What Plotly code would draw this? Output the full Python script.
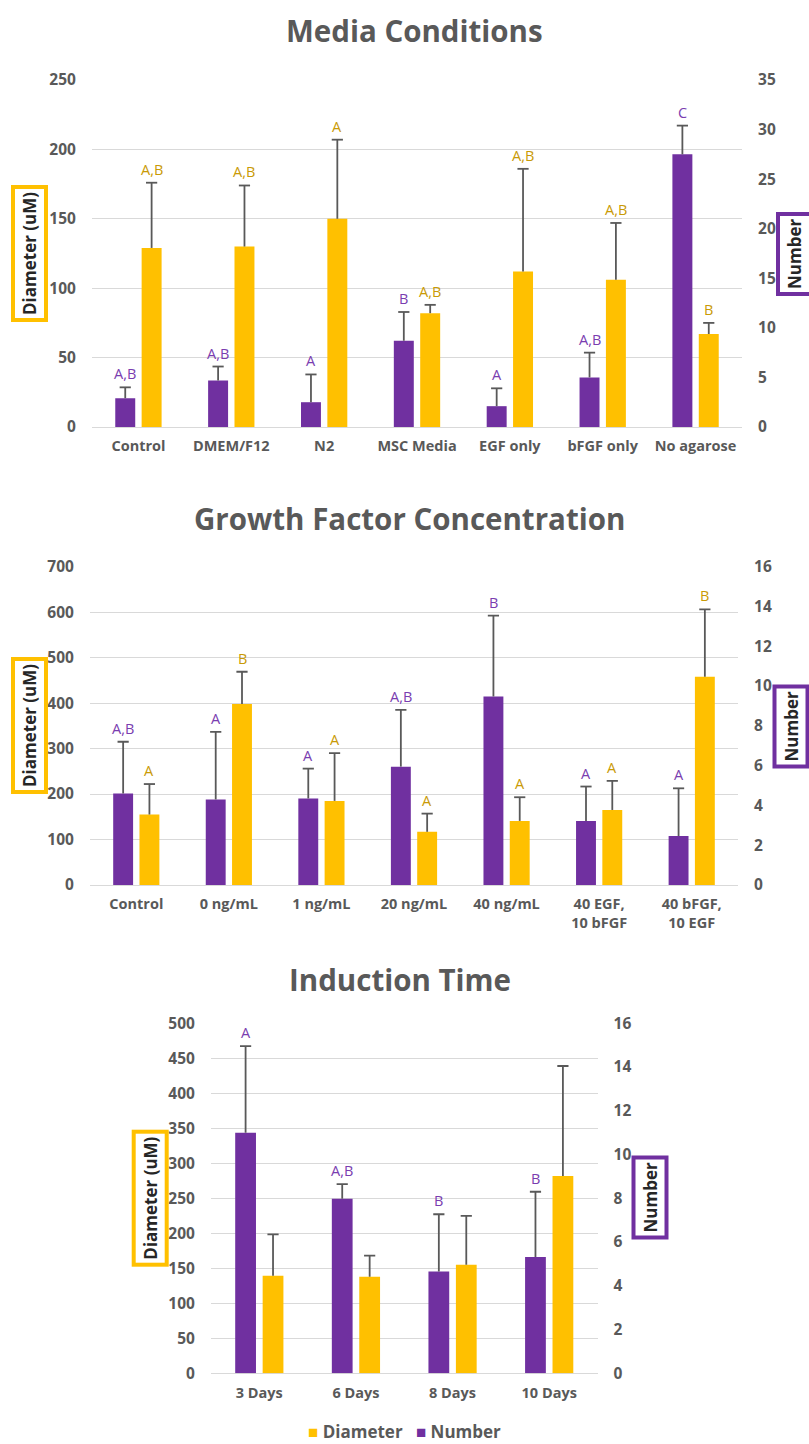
import plotly.graph_objects as go

# ---------------- data ----------------
media_cats = ["Control", "DMEM/F12", "N2", "MSC Media", "EGF only", "bFGF only", "No agarose"]
media_diameter = [129, 130, 150, 82, 112, 106, 67]
media_diameter_err = [47, 44, 57, 6, 74, 41, 8]
media_number = [2.9, 4.7, 2.5, 8.7, 2.1, 5.0, 27.5]
media_number_err = [1.1, 1.4, 2.8, 2.9, 1.8, 2.5, 2.9]
media_diameter_sig = ["A,B", "A,B", "A", "A,B", "A,B", "A,B", "B"]
media_number_sig = ["A,B", "A,B", "A", "B", "A", "A,B", "C"]

gf_cats = ["Control", "0 ng/mL", "1 ng/mL", "20 ng/mL", "40 ng/mL",
           "40 EGF,<br>10 bFGF", "40 bFGF,<br>10 EGF"]
gf_diameter = [155, 398, 185, 117, 141, 165, 458]
gf_diameter_err = [67, 71, 105, 40, 52, 64, 148]
gf_number = [4.6, 4.3, 4.35, 5.95, 9.47, 3.22, 2.46]
gf_number_err = [2.6, 3.4, 1.5, 2.85, 4.07, 1.73, 2.4]
gf_diameter_sig = ["A", "B", "A", "A", "A", "A", "B"]
gf_number_sig = ["A,B", "A", "A", "A,B", "B", "A", "A"]

time_cats = ["3 Days", "6 Days", "8 Days", "10 Days"]
time_diameter = [139.5, 138, 155, 282]
time_diameter_err = [59, 30, 70, 157]
time_number = [11.0, 7.98, 4.65, 5.32]
time_number_err = [3.96, 0.67, 2.62, 2.98]
time_number_sig = ["A", "A,B", "B", "B"]

series_names = ["Diameter", "Number"]

# ---------------- styling ----------------
W, H = 809, 1444
PURPLE = "#7030A0"
GOLD = "#FFC000"
PURPLE_TXT = "#7A3DB0"
GOLD_TXT = "#C99A06"
GRID = "#D9D9D9"
TICK = "#595959"
ERR = "#595959"
FONT = "Open Sans"
BAR_W = 0.215
SHIFT = 0.142


def px_x(v):
    return v / W


def px_y(v):
    return 1 - v / H


fig = go.Figure()

panels = [
    dict(title="Media Conditions", title_x=414, title_y=30,
         cats=media_cats, dia=media_diameter, dia_err=media_diameter_err,
         num=media_number, num_err=media_number_err,
         dia_sig=media_diameter_sig, num_sig=media_number_sig,
         x0=92, x1=742, ytop=80, ybot=427,
         lrange=[0, 250], ldtick=50, rrange=[0, 35], rdtick=5,
         dbox=(29.5, 253.5), nbox=(795, 254)),
    dict(title="Growth Factor Concentration", title_x=409, title_y=519,
         cats=gf_cats, dia=gf_diameter, dia_err=gf_diameter_err,
         num=gf_number, num_err=gf_number_err,
         dia_sig=gf_diameter_sig, num_sig=gf_number_sig,
         x0=90, x1=738, ytop=566.7, ybot=885,
         lrange=[0, 700], ldtick=100, rrange=[0, 16], rdtick=2,
         dbox=(29.5, 725.5), nbox=(791, 726.5)),
    dict(title="Induction Time", title_x=400, title_y=979,
         cats=time_cats, dia=time_diameter, dia_err=time_diameter_err,
         num=time_number, num_err=time_number_err,
         dia_sig=None, num_sig=time_number_sig,
         x0=211, x1=597.5, ytop=1023.3, ybot=1373.3,
         lrange=[0, 500], ldtick=50, rrange=[0, 16], rdtick=2,
         dbox=(149.7, 1198), nbox=(649.5, 1198)),
]

annotations = []
layout_axes = {}


def add_series(xs, vals, errs, shift, color, name, xname, yname):
    n = len(xs)
    # bar with an upward stem for the error
    fig.add_trace(go.Bar(
        x=xs, y=vals, name=name, showlegend=False,
        marker_color=color, marker_line_width=0,
        width=BAR_W, offset=shift - BAR_W / 2,
        error_y=dict(type="data", array=errs, arrayminus=[0] * n,
                     symmetric=False, color=ERR, thickness=1.8, width=0),
        xaxis=xname, yaxis=yname, hoverinfo="skip"))
    # cap on top of each error stem
    fig.add_trace(go.Scatter(
        x=[x + shift for x in xs], y=[v + e for v, e in zip(vals, errs)],
        mode="markers", showlegend=False, hoverinfo="skip",
        marker=dict(symbol="line-ew", size=8, color=ERR,
                    line=dict(color=ERR, width=1.8)),
        xaxis=xname, yaxis=yname))


for k, p in enumerate(panels):
    xi = k + 1
    yl = 2 * k + 1
    yr = 2 * k + 2
    xname = "x" if xi == 1 else f"x{xi}"
    ylname = "y" if yl == 1 else f"y{yl}"
    yrname = f"y{yr}"
    n = len(p["cats"])
    xs = list(range(n))

    add_series(xs, p["dia"], p["dia_err"], SHIFT, GOLD, series_names[0], xname, ylname)
    add_series(xs, p["num"], p["num_err"], -SHIFT, PURPLE, series_names[1], xname, yrname)

    # significance letters above the error bars
    if p["dia_sig"]:
        for i, s in enumerate(p["dia_sig"]):
            annotations.append(dict(
                x=i + SHIFT, y=p["dia"][i] + p["dia_err"][i], xref=xname, yref=ylname,
                text=s, showarrow=False, yanchor="bottom", yshift=2,
                font=dict(family=FONT, size=14.5, color=GOLD_TXT)))
    if p["num_sig"]:
        for i, s in enumerate(p["num_sig"]):
            annotations.append(dict(
                x=i - SHIFT, y=p["num"][i] + p["num_err"][i], xref=xname, yref=yrname,
                text=s, showarrow=False, yanchor="bottom", yshift=2,
                font=dict(family=FONT, size=14.5, color=PURPLE_TXT)))

    # chart title
    annotations.append(dict(
        x=px_x(p["title_x"]), y=px_y(p["title_y"]), xref="paper", yref="paper",
        text=f"<b>{p['title']}</b>", showarrow=False, xanchor="center", yanchor="middle",
        font=dict(family=FONT, size=29.5, color=TICK)))

    # boxed axis titles
    annotations.append(dict(
        x=px_x(p["dbox"][0]), y=px_y(p["dbox"][1]), xref="paper", yref="paper",
        text="<b>Diameter (uM)</b>", textangle=-90, showarrow=False,
        xanchor="center", yanchor="middle", bgcolor="white",
        bordercolor=GOLD, borderwidth=4, borderpad=3,
        font=dict(family=FONT, size=17, color="#262626")))
    annotations.append(dict(
        x=px_x(p["nbox"][0]), y=px_y(p["nbox"][1]), xref="paper", yref="paper",
        text="<b>Number</b>", textangle=-90, showarrow=False,
        xanchor="center", yanchor="middle", bgcolor="white",
        bordercolor=PURPLE, borderwidth=4, borderpad=3,
        font=dict(family=FONT, size=17, color="#262626")))

    xdom = [px_x(p["x0"]), px_x(p["x1"])]
    ydom = [px_y(p["ybot"]), px_y(p["ytop"])]
    tickfont = dict(family=FONT, size=15.5, color=TICK, weight=700)

    layout_axes["xaxis" if xi == 1 else f"xaxis{xi}"] = dict(
        domain=xdom, anchor=ylname, range=[-0.5, n - 0.5],
        tickmode="array", tickvals=xs, ticktext=p["cats"],
        showgrid=False, zeroline=False, showline=False, automargin=False,
        ticks="outside", ticklen=6, tickcolor="rgba(0,0,0,0)",
        tickfont=dict(family=FONT, size=14.5, color=TICK, weight=700), fixedrange=True)
    layout_axes["yaxis" if yl == 1 else f"yaxis{yl}"] = dict(
        domain=ydom, anchor=xname, range=p["lrange"], dtick=p["ldtick"],
        showgrid=True, gridcolor=GRID, gridwidth=1, automargin=False,
        zeroline=True, zerolinecolor=GRID, zerolinewidth=1, showline=False,
        ticks="outside", ticklen=12, tickcolor="rgba(0,0,0,0)",
        tickfont=tickfont, fixedrange=True)
    layout_axes[f"yaxis{yr}"] = dict(
        domain=ydom, anchor=xname, overlaying=ylname, side="right",
        range=p["rrange"], dtick=p["rdtick"], automargin=False,
        showgrid=False, zeroline=False, showline=False,
        ticks="outside", ticklen=12, tickcolor="rgba(0,0,0,0)",
        tickfont=tickfont, fixedrange=True)

# shared key for both series, placed under the last panel
key_text = (f"<span style='color:{GOLD}'>■</span> {series_names[0]}"
            f"&nbsp;&nbsp;&nbsp;<span style='color:{PURPLE}'>■</span>&nbsp;{series_names[1]}")
annotations.append(dict(
    x=px_x(404), y=px_y(1431), xref="paper", yref="paper",
    text=f"<b>{key_text}</b>", showarrow=False, xanchor="center", yanchor="middle",
    font=dict(family=FONT, size=17, color=TICK)))

fig.update_layout(
    width=W, height=H, autosize=False,
    margin=dict(l=0, r=0, t=0, b=0, autoexpand=False),
    paper_bgcolor="white", plot_bgcolor="white",
    barmode="overlay",
    showlegend=False,
    annotations=annotations,
    **layout_axes,
)

fig.write_html("out.html", config={"displayModeBar": False})
